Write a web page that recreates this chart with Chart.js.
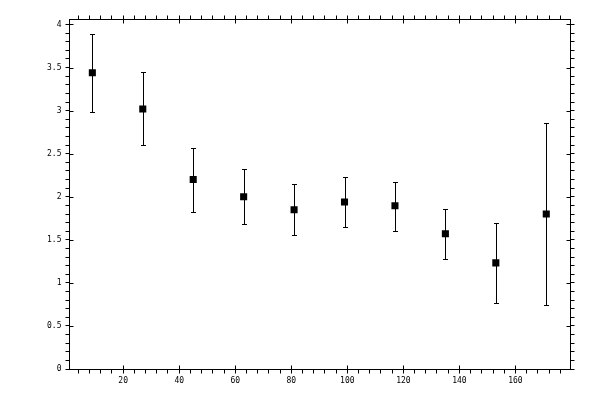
<!DOCTYPE html>
<html>
<head>
<meta charset="utf-8">
<script src="https://cdn.jsdelivr.net/npm/chart.js@4/dist/chart.umd.min.js"></script>
<style>
  html, body { margin: 0; padding: 0; background: #fff; }
  #wrap { width: 600px; height: 400px; }
</style>
</head>
<body>
<div id="wrap"><canvas id="c" width="600" height="400"></canvas></div>
<script>
// ---- data ----
const xValues = [9, 27, 45, 63, 81, 99, 117, 135, 153, 171];
const yValues = [3.44, 3.02, 2.20, 2.00, 1.85, 1.94, 1.895, 1.57, 1.233, 1.80];
const yLow    = [2.99, 2.605, 1.826, 1.686, 1.558, 1.651, 1.605, 1.279, 0.767, 0.744];
const yHigh   = [3.89, 3.445, 2.57, 2.32, 2.151, 2.229, 2.174, 1.856, 1.693, 2.86];

const xMin = 0.85, xMax = 179.65, xMinorStep = 4, xMajorStep = 20;
const yMin = -0.005, yMax = 4.058, yMinorStep = 0.1, yMajorStep = 0.5;

const FONT = { family: "'DejaVu Sans Mono', monospace", size: 8 };

function isMajor(v, step) {
  const r = v / step;
  return Math.abs(r - Math.round(r)) < 1e-6;
}

const points = xValues.map((x, i) => ({ x: x, y: yValues[i] }));

const errorBarPlugin = {
  id: 'errorBars',
  afterDatasetsDraw(chart) {
    const ctx = chart.ctx;
    const xs = chart.scales.x, ys = chart.scales.y;
    ctx.save();
    ctx.strokeStyle = '#000';
    ctx.lineWidth = 1;
    const cap = 2.5;
    xValues.forEach((x, i) => {
      const px = Math.round(xs.getPixelForValue(x)) + 0.5;
      const pLo = Math.round(ys.getPixelForValue(yLow[i])) + 0.5;
      const pHi = Math.round(ys.getPixelForValue(yHigh[i])) + 0.5;
      ctx.beginPath();
      ctx.moveTo(px, pLo); ctx.lineTo(px, pHi);
      ctx.moveTo(px - cap, pLo); ctx.lineTo(px + cap, pLo);
      ctx.moveTo(px - cap, pHi); ctx.lineTo(px + cap, pHi);
      ctx.stroke();
    });
    ctx.restore();
  }
};

// inward part of the major tick marks (the library draws the outward part)
const innerTickPlugin = {
  id: 'innerTicks',
  afterDraw(chart) {
    const ctx = chart.ctx;
    const a = chart.chartArea;
    const len = 4;
    ctx.save();
    ctx.strokeStyle = '#000';
    ctx.lineWidth = 1;
    ctx.beginPath();
    ['x', 'x2'].forEach(id => {
      const s = chart.scales[id];
      s.ticks.forEach(t => {
        if (!isMajor(t.value, xMajorStep)) return;
        const px = Math.round(s.getPixelForValue(t.value)) + 0.5;
        if (id === 'x') { ctx.moveTo(px, a.bottom); ctx.lineTo(px, a.bottom - len); }
        else { ctx.moveTo(px, a.top); ctx.lineTo(px, a.top + len); }
      });
    });
    ['y', 'y2'].forEach(id => {
      const s = chart.scales[id];
      s.ticks.forEach(t => {
        if (!isMajor(t.value, yMajorStep)) return;
        const py = Math.round(s.getPixelForValue(t.value)) + 0.5;
        if (id === 'y') { ctx.moveTo(a.left, py); ctx.lineTo(a.left + len, py); }
        else { ctx.moveTo(a.right, py); ctx.lineTo(a.right - len, py); }
      });
    });
    ctx.stroke();
    ctx.restore();
  }
};

function axisGrid() {
  return { drawOnChartArea: false, drawTicks: true, tickLength: 4, color: '#000', lineWidth: 1 };
}

new Chart(document.getElementById('c'), {
  type: 'scatter',
  data: {
    datasets: [{
      data: points,
      pointStyle: 'rect',
      pointRadius: 5,
      pointHoverRadius: 5,
      pointBorderWidth: 0,
      backgroundColor: '#000',
      borderColor: '#000',
      showLine: false
    }]
  },
  options: {
    responsive: false,
    animation: false,
    devicePixelRatio: 1,
    layout: { padding: 0 },
    plugins: { legend: { display: false }, tooltip: { enabled: false } },
    scales: {
      x: {
        type: 'linear', position: 'bottom', min: xMin, max: xMax,
        grid: axisGrid(),
        border: { display: true, color: '#000', width: 1 },
        ticks: {
          stepSize: xMinorStep, includeBounds: false, autoSkip: false, maxRotation: 0,
          color: '#000', font: FONT, padding: 3,
          callback: v => isMajor(v, xMajorStep) ? String(Math.round(v)) : ''
        },
        afterFit: s => { s.height = 30.5; }
      },
      x2: {
        type: 'linear', position: 'top', min: xMin, max: xMax,
        grid: axisGrid(),
        border: { display: true, color: '#000', width: 1 },
        ticks: { stepSize: xMinorStep, includeBounds: false, autoSkip: false, maxRotation: 0, font: FONT, callback: () => '' },
        afterFit: s => { s.height = 19.5; }
      },
      y: {
        type: 'linear', position: 'left', min: yMin, max: yMax,
        grid: axisGrid(),
        border: { display: true, color: '#000', width: 1 },
        ticks: {
          stepSize: yMinorStep, includeBounds: false, autoSkip: false,
          color: '#000', font: FONT, padding: 4,
          callback: v => isMajor(v, yMajorStep) ? String(Math.round(v * 10) / 10) : ''
        },
        afterFit: s => { s.width = 69.5; }
      },
      y2: {
        type: 'linear', position: 'right', min: yMin, max: yMax,
        grid: axisGrid(),
        border: { display: true, color: '#000', width: 1 },
        ticks: { stepSize: yMinorStep, includeBounds: false, autoSkip: false, font: FONT, callback: () => '' },
        afterFit: s => { s.width = 29.5; }
      }
    }
  },
  plugins: [errorBarPlugin, innerTickPlugin]
});
</script>
</body>
</html>
